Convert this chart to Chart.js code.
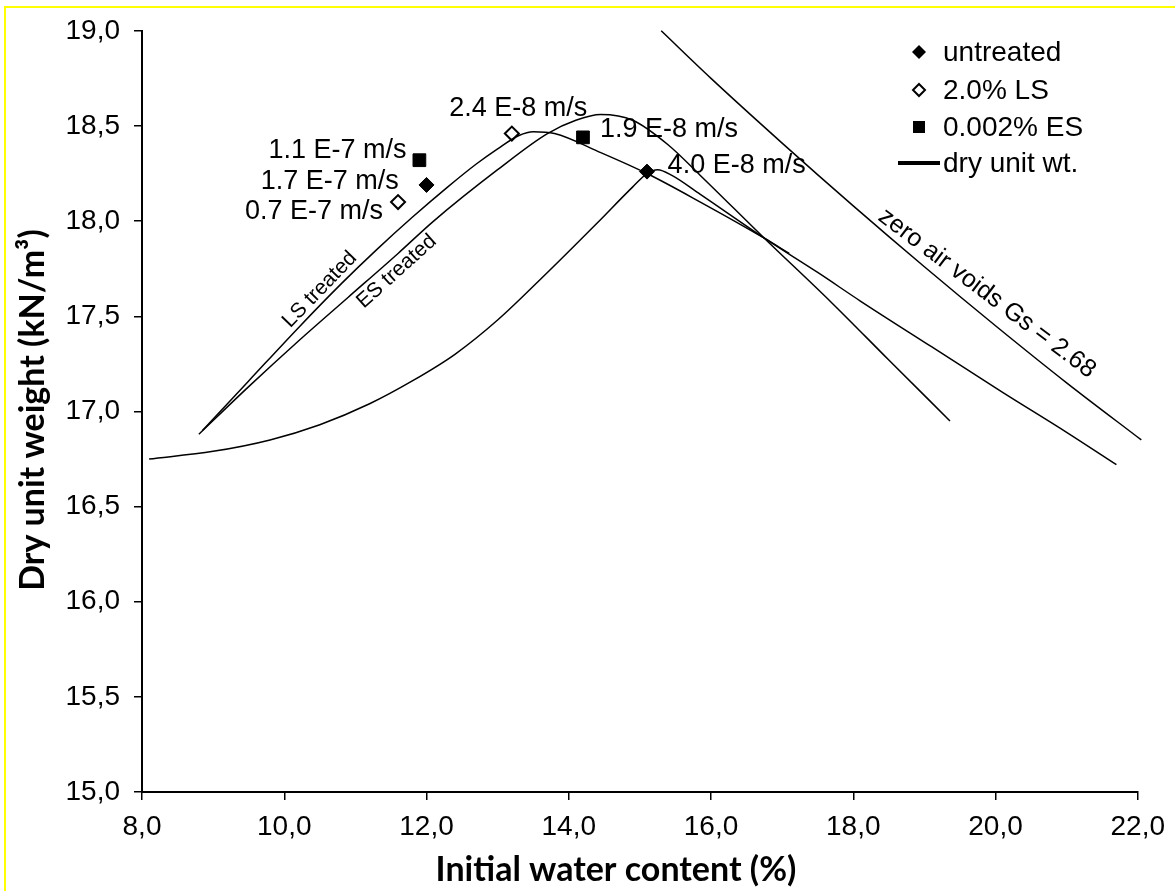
<!DOCTYPE html>
<html>
<head>
<meta charset="utf-8">
<script src="https://cdn.jsdelivr.net/npm/chart.js@4/dist/chart.umd.min.js"></script>
<style>
  html, body { margin: 0; padding: 0; background: #fff; }
  canvas { display: block; }
</style>
</head>
<body>
<canvas id="compactionChart" width="1175" height="891"></canvas>
<script>
// fitted compaction curves
const untreatedX = [8.1, 9.0, 9.8, 10.5, 11.2, 11.8, 12.4, 13.0, 13.7, 14.4, 14.9, 15.1, 15.25, 15.45, 15.85, 16.75, 17.5, 18.1, 19.1, 20.1, 21.0, 21.7];
const untreatedY = [16.75, 16.79, 16.85, 16.93, 17.04, 17.16, 17.30, 17.48, 17.73, 17.99, 18.18, 18.25, 18.27, 18.24, 18.14, 17.91, 17.73, 17.58, 17.34, 17.10, 16.89, 16.72];

const lsX = [8.85, 9.5, 10.2, 10.8, 11.3, 11.8, 12.3, 12.7, 13.0, 13.3, 13.5, 13.8, 14.45, 15.1, 15.85, 16.75, 17.1];
const lsY = [16.90, 17.16, 17.44, 17.67, 17.85, 18.02, 18.18, 18.30, 18.38, 18.45, 18.47, 18.46, 18.36, 18.25, 18.10, 17.91, 17.83];

const esX = [8.8, 9.5, 10.2, 10.9, 11.6, 12.1, 13.0, 13.7, 14.1, 14.45, 14.9, 15.4, 15.85, 16.75, 17.7, 18.5, 19.36];
const esY = [16.88, 17.13, 17.37, 17.60, 17.83, 18.00, 18.27, 18.46, 18.53, 18.56, 18.53, 18.40, 18.24, 17.91, 17.57, 17.27, 16.95];

// zero air voids line, Gs = 2.68
const zavX = [15.3, 16.0, 17.0, 18.0, 19.0, 20.0, 21.0, 22.05];
const zavY = [19.00, 18.75, 18.41, 18.08, 17.76, 17.45, 17.15, 16.85];

// measured specimens
const untreatedPtsX = [12.0, 15.1];
const untreatedPtsY = [18.19, 18.26];
const lsPtsX = [11.6, 13.2];
const lsPtsY = [18.10, 18.46];
const esPtsX = [11.9, 14.2];
const esPtsY = [18.32, 18.44];

const xTickLabels = ['8,0', '10,0', '12,0', '14,0', '16,0', '18,0', '20,0', '22,0'];
const yTickLabels = ['15,0', '15,5', '16,0', '16,5', '17,0', '17,5', '18,0', '18,5', '19,0'];
const legendLabels = ['untreated', '2.0% LS', '0.002% ES', 'dry unit wt.'];
const xTitle = 'Initial water content (%)';
const yTitle = 'Dry unit weight (kN/m³)';

const zip = (xs, ys) => xs.map((x, i) => ({ x: x, y: ys[i] }));

const ARIAL = '"Liberation Sans", Arial, sans-serif';
const TITLE_FONT = 'bold 34px Lato, "Open Sans", sans-serif';

function curve(xs, ys) {
    return {
        data: zip(xs, ys),
        showLine: true,
        borderColor: '#000',
        borderWidth: 1.5,
        pointRadius: 0,
        cubicInterpolationMode: 'monotone',
        clip: false
    };
}

// text written onto the plot, anchored in data units
const notes = [
    { text: '2.4 E-8 m/s', x: 13.29, y: 18.59, align: 'center', size: 27, angle: 0 },
    { text: '1.1 E-7 m/s', x: 11.72, y: 18.37, align: 'right', size: 27, angle: 0 },
    { text: '1.7 E-7 m/s', x: 11.61, y: 18.21, align: 'right', size: 27, angle: 0 },
    { text: '0.7 E-7 m/s', x: 11.39, y: 18.05, align: 'right', size: 27, angle: 0 },
    { text: '1.9 E-8 m/s', x: 14.44, y: 18.48, align: 'left', size: 27, angle: 0 },
    { text: '4.0 E-8 m/s', x: 15.39, y: 18.29, align: 'left', size: 27, angle: 0 },
    { text: 'LS treated', x: 10.50, y: 17.64, align: 'center', size: 21, angle: -46 },
    { text: 'ES treated', x: 11.58, y: 17.735, align: 'center', size: 21, angle: -42 },
    { text: 'zero air voids Gs = 2.68', x: 19.88, y: 17.62, align: 'center', size: 25, angle: 37 }
];

const pageFrame = {
    id: 'pageFrame',
    beforeDraw(chart) {
        const c = chart.ctx;
        c.save();
        c.fillStyle = '#fff';
        c.fillRect(0, 0, chart.width, chart.height);
        c.strokeStyle = '#ffff00';
        c.lineWidth = 2;
        c.beginPath();
        c.moveTo(5, chart.height);
        c.lineTo(5, 7);
        c.lineTo(chart.width, 7);
        c.stroke();
        c.restore();
    }
};

const notesAndLegend = {
    id: 'notesAndLegend',
    afterDatasetsDraw(chart) {
        const c = chart.ctx;
        const xs = chart.scales.x, ys = chart.scales.y;
        c.save();
        c.fillStyle = '#000';
        c.textBaseline = 'middle';
        notes.forEach(n => {
            c.save();
            c.translate(xs.getPixelForValue(n.x), ys.getPixelForValue(n.y));
            c.rotate(n.angle * Math.PI / 180);
            c.font = n.size + 'px ' + ARIAL;
            c.textAlign = n.align;
            c.fillText(n.text, 0, 0);
            c.restore();
        });

        // axis titles
        c.font = TITLE_FONT;
        c.textAlign = 'center';
        c.fillText(xTitle, 616, 870);
        c.save();
        c.translate(33, 410);
        c.rotate(-Math.PI / 2);
        c.fillText(yTitle, 0, 0);
        c.restore();

        // legend
        const mx = 919, tx = 943, rows = [52, 90, 127, 163];
        c.font = '28px ' + ARIAL;
        c.textAlign = 'left';
        legendLabels.forEach((lab, i) => c.fillText(lab, tx, rows[i] + 1));
        // filled diamond
        c.beginPath();
        c.moveTo(mx, rows[0] - 7); c.lineTo(mx + 7, rows[0]); c.lineTo(mx, rows[0] + 7); c.lineTo(mx - 7, rows[0]);
        c.closePath(); c.fill();
        // open diamond
        c.beginPath();
        c.moveTo(mx, rows[1] - 6); c.lineTo(mx + 6, rows[1]); c.lineTo(mx, rows[1] + 6); c.lineTo(mx - 6, rows[1]);
        c.closePath();
        c.fillStyle = '#fff'; c.fill();
        c.lineWidth = 2; c.strokeStyle = '#000'; c.stroke();
        c.fillStyle = '#000';
        // square
        c.fillRect(mx - 6, rows[2] - 6, 12, 12);
        // line
        c.lineWidth = 4;
        c.beginPath();
        c.moveTo(898, rows[3]); c.lineTo(940, rows[3]);
        c.stroke();
        c.restore();
    }
};

const ctx = document.getElementById('compactionChart').getContext('2d');

new Chart(ctx, {
    type: 'scatter',
    data: {
        datasets: [
            curve(untreatedX, untreatedY),
            curve(lsX, lsY),
            curve(esX, esY),
            curve(zavX, zavY),
            {
                data: zip(untreatedPtsX, untreatedPtsY),
                pointStyle: 'rectRot', pointRadius: 7.5,
                backgroundColor: '#000', borderColor: '#000', borderWidth: 1
            },
            {
                data: zip(lsPtsX, lsPtsY),
                pointStyle: 'rectRot', pointRadius: 7,
                backgroundColor: '#fff', borderColor: '#000', borderWidth: 2
            },
            {
                data: zip(esPtsX, esPtsY),
                pointStyle: 'rect', pointRadius: 9,
                backgroundColor: '#000', borderColor: '#000', borderWidth: 1
            }
        ]
    },
    options: {
        responsive: false,
        animation: false,
        events: [],
        layout: { padding: { top: 29, right: 37, left: 0, bottom: 0 } },
        plugins: {
            legend: { display: false },
            tooltip: { enabled: false }
        },
        scales: {
            x: {
                type: 'linear',
                min: 8, max: 22,
                afterFit: s => { s.height = 99; },
                afterBuildTicks: s => { s.ticks = xTickLabels.map((_, i) => ({ value: 8 + 2 * i })); },
                ticks: {
                    color: '#000',
                    font: { family: ARIAL, size: 28 },
                    padding: 10,
                    maxRotation: 0,
                    callback: (v, i) => xTickLabels[i]
                },
                grid: { drawOnChartArea: false, drawTicks: true, tickLength: 8, color: '#000', lineWidth: 1.5 },
                border: { display: true, color: '#000', width: 2 }
            },
            y: {
                type: 'linear',
                min: 15, max: 19,
                afterFit: s => { s.width = 142; },
                afterBuildTicks: s => { s.ticks = yTickLabels.map((_, i) => ({ value: 15 + 0.5 * i })); },
                ticks: {
                    color: '#000',
                    font: { family: ARIAL, size: 28 },
                    padding: 14,
                    callback: (v, i) => yTickLabels[i]
                },
                grid: { drawOnChartArea: false, drawTicks: true, tickLength: 8, color: '#000', lineWidth: 1.5 },
                border: { display: true, color: '#000', width: 2 }
            }
        }
    },
    plugins: [pageFrame, notesAndLegend]
});
</script>
</body>
</html>
